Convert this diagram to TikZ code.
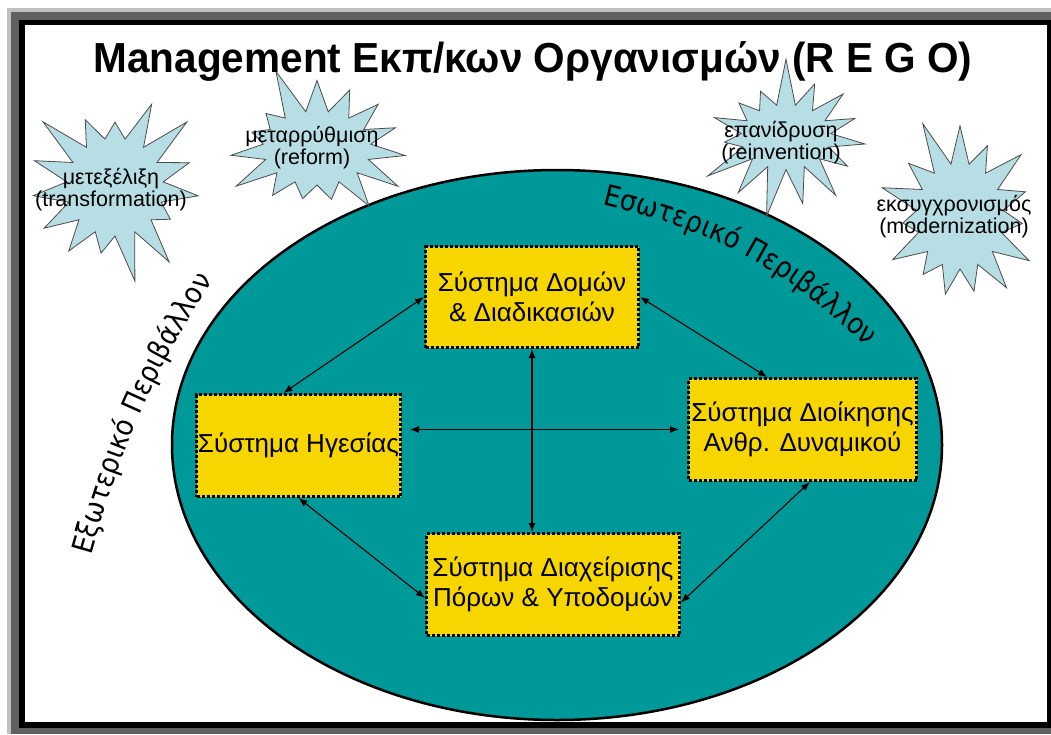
\documentclass[tikz,border=0pt]{standalone}
\usepackage{fontspec}
\setmainfont{Liberation Sans}
\newfontfamily\envfont{DejaVu Sans Condensed}
\usetikzlibrary{arrows.meta,shapes.symbols,decorations.text}
\definecolor{tealbg}{RGB}{0,153,153}
\definecolor{boxyellow}{RGB}{247,214,0}
\definecolor{burstblue}{RGB}{183,222,228}
\definecolor{framedark}{RGB}{96,96,96}
\definecolor{framelight}{RGB}{192,192,192}

\begin{document}
\begin{tikzpicture}[
		x=1pt, y=1pt,
		system/.style={rectangle,draw=black,fill=boxyellow,line width=3pt,
		dash pattern=on 3pt off 2pt,inner sep=0pt,align=center,
		font=\fontsize{26}{30}\selectfont},
		burst/.style={starburst,draw=black!70,fill=burstblue,line width=0.8pt,
		starburst points=15,starburst point height=50pt,inner sep=0pt},
		bursttext/.style={align=center,font=\fontsize{21.5}{22}\selectfont},
		link/.style={>={Latex[length=9pt,width=7pt]},draw=black,line width=1.1pt,<->}
		]
		\useasboundingbox (0,0) rectangle (1051,-734);
		% frame
		\fill[white] (0,0) rectangle (1051,-734);
		\fill[framelight] (7,-8) rectangle (1051,-734);
		\fill[framedark] (11,-12) rectangle (1051,-734);
		\fill[black] (19,-20) rectangle (1051,-728);
		\fill[white] (25,-25) rectangle (1047,-722);
		% ellipse
		\draw[fill=tealbg,line width=2.5pt] (557,-445) ellipse [x radius=385, y radius=275];
		\path[decorate,decoration={text along path,text align=center,
			text={|\envfont\fontsize{29}{29}\selectfont|Εσωτερικό Περιβάλλον}}]
			(598,-203) to[bend left=15] (870,-350);
		\path[decorate,decoration={text along path,text align=center,
			text={|\envfont\fontsize{29}{29}\selectfont|Εξωτερικό Περιβάλλον}}]
			(92,-552) to[bend left=8] (211,-283);
		% stars
		\node[burst,minimum width=197pt,minimum height=198pt,random starburst=3] (b1) at (115,-187) {};
		\node[burst,minimum width=208pt,minimum height=174pt,random starburst=5] (b2) at (317,-148) {};
		\node[burst,minimum width=190pt,minimum height=165pt,random starburst=7] (b3) at (786,-137) {};
		\node[burst,minimum width=187pt,minimum height=206pt,random starburst=11] (b4) at (960,-216) {};
		\node[bursttext] (t1) at (111,-190) {μετεξέλιξη\\(transformation)};
		\node[bursttext] (t2) at (312,-148) {μεταρρύθμιση\\(reform)};
		\node[bursttext] (t3) at (781,-143) {επανίδρυση\\(reinvention)};
		\node[bursttext] (t4) at (954,-217) {εκσυγχρονισμός\\(modernization)};
		% systems
		\node[system,minimum width=213pt,minimum height=101pt] (struct) at (532,-297) {Σύστημα Δομών\\ \& Διαδικασιών};
		\node[system,minimum width=204pt,minimum height=102pt] (lead) at (298.5,-445.5) {Σύστημα Ηγεσίας};
		\node[system,minimum width=228pt,minimum height=102pt] (hr) at (802.5,-429.5) {Σύστημα Διοίκησης\\Ανθρ. Δυναμικού};
		\node[system,minimum width=253pt,minimum height=102pt] (res) at (553,-584.5) {Σύστημα Διαχείρισης\\Πόρων \& Υποδομών};
		\draw[link] (struct.west) -- (lead.106);
		\draw[link] (struct.east) -- (hr.124);
		\draw[link] (lead.south) -- (res.186);
		\draw[link] (hr.278) -- (res.352);
		\draw[link] (struct.south) -- (struct.south |- res.north);
		\draw[link,shorten <=8pt,shorten >=8pt] (hr.west -| lead.east) -- (hr.west);
		\node[font=\bfseries\fontsize{42}{42}\selectfont,anchor=base,xscale=0.965,transform shape] (title) at (533,-72) {Management Εκπ/κων Οργανισμών (R E G O)};
	\end{tikzpicture}
\end{document}
